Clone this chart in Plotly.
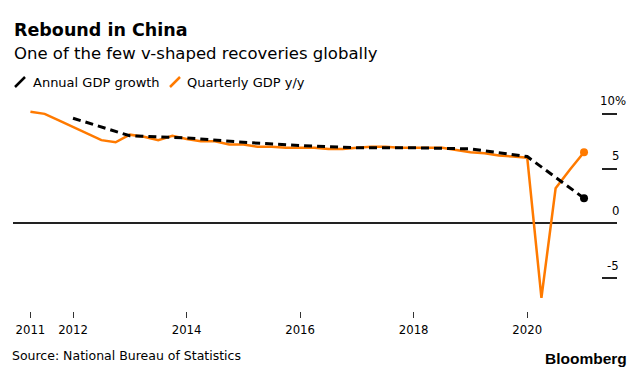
import plotly.graph_objects as go

# ---- data ----
years = list(range(2011, 2021))
quarterly_growth = [
    10.2, 10.0, 9.4, 8.8,   # 2011
    8.2, 7.6, 7.4, 8.1,     # 2012
    7.9, 7.6, 8.0, 7.7,     # 2013
    7.5, 7.5, 7.2, 7.2,     # 2014
    7.0, 7.0, 6.9, 6.9,     # 2015
    6.9, 6.8, 6.8, 6.9,     # 2016
    7.0, 7.0, 6.9, 6.9,     # 2017
    6.9, 6.9, 6.7, 6.5,     # 2018
    6.4, 6.2, 6.1, 6.0,     # 2019
    -6.8, 3.2, 4.9, 6.5,    # 2020
]
annual_growth = [9.6, 8.0, 7.8, 7.4, 7.1, 6.9, 6.9, 6.8, 6.1, 2.3]
x_tick_vals = [2011.25, 2012, 2014, 2016, 2018, 2020]
x_tick_text = ["2011", "2012", "2014", "2016", "2018", "2020"]
y_tick_vals = [-5, 0, 5, 10]
y_tick_text = ["-5", "0", "5", "10%"]

# quarter-end positions (fractional years)
q_x = [y + q / 4 for y in years for q in range(1, 5)]
a_x = [y + 1 for y in years]

W, H = 640, 375
L, R, T, B = 13, 23, 95, 64
PW, PH = W - L - R, H - T - B

def px(x):
    return (x - L) / PW

def py(y):
    return (H - B - y) / PH

FONT = "DejaVu Sans, sans-serif"
FONT_C = "DejaVu Sans Condensed, DejaVu Sans, sans-serif"
ORANGE = "#FF7A00"

fig = go.Figure()
fig.add_trace(go.Scatter(
    x=q_x, y=quarterly_growth, mode="lines",
    line=dict(color=ORANGE, width=2.5), hoverinfo="skip", showlegend=False))
fig.add_trace(go.Scatter(
    x=q_x[-1:], y=quarterly_growth[-1:], mode="markers",
    marker=dict(color=ORANGE, size=8), hoverinfo="skip", showlegend=False))
fig.add_trace(go.Scatter(
    x=a_x, y=annual_growth, mode="lines",
    line=dict(color="black", width=3, dash="8px,5px"), hoverinfo="skip", showlegend=False))
fig.add_trace(go.Scatter(
    x=a_x[-1:], y=annual_growth[-1:], mode="markers",
    marker=dict(color="black", size=8), hoverinfo="skip", showlegend=False))

annotations = []
def text(s, x, y, size, anchor="left", bold=False, color="black", font=FONT):
    annotations.append(dict(
        text=f"<b>{s}</b>" if bold else s, xref="paper", yref="paper",
        x=px(x), y=py(y), xanchor=anchor, yanchor="middle", showarrow=False,
        font=dict(family=font, size=size, color=color)))

text("Rebound in China", 12, 30, 17.5, bold=True)
text("One of the few v-shaped recoveries globally", 12, 53, 16.5)
text("Annual GDP growth", 31, 82, 13)
text("Quarterly GDP y/y", 185, 82, 13)
text("Source: National Bureau of Statistics", 10, 355, 12.5)
text("Bloomberg", 629, 358, 15.5, anchor="right", bold=True,
     font="Liberation Sans, Arial, sans-serif")

for v, t in zip(y_tick_vals, y_tick_text):
    annotations.append(dict(
        text=t, xref="paper", yref="y", x=1, y=v, xanchor="right", yanchor="middle",
        xshift=11 if t.endswith("%") else 4, yshift=13, showarrow=False,
        font=dict(family=FONT_C, size=13, color="black")))

shapes = [
    dict(type="line", xref="paper", yref="paper", x0=px(15), y0=py(87), x1=px(25), y1=py(77),
         line=dict(color="black", width=2.5)),
    dict(type="line", xref="paper", yref="paper", x0=px(170), y0=py(87), x1=px(180), y1=py(77),
         line=dict(color=ORANGE, width=2.5)),
]

fig.update_layout(
    width=W, height=H,
    margin=dict(l=L, r=R, t=T, b=B),
    paper_bgcolor="white", plot_bgcolor="white",
    showlegend=False,
    annotations=annotations, shapes=shapes,
    xaxis=dict(
        range=[2010.943, 2021.581], tickvals=x_tick_vals, ticktext=x_tick_text,
        ticks="outside", ticklen=6, tickwidth=1, tickcolor="#333",
        showgrid=False, zeroline=False, showline=False,
        tickfont=dict(family=FONT_C, size=13, color="black")),
    yaxis=dict(
        range=[-8.0, 11.72], side="right", tickvals=y_tick_vals,
        ticks="inside", ticklen=15, tickwidth=1.5, tickcolor="#222",
        showticklabels=False, showgrid=False, showline=False,
        zeroline=True, zerolinecolor="#222", zerolinewidth=1.5),
)

fig.write_html("out.html", config={"displayModeBar": False},
               post_script="document.body.style.margin='0';")
